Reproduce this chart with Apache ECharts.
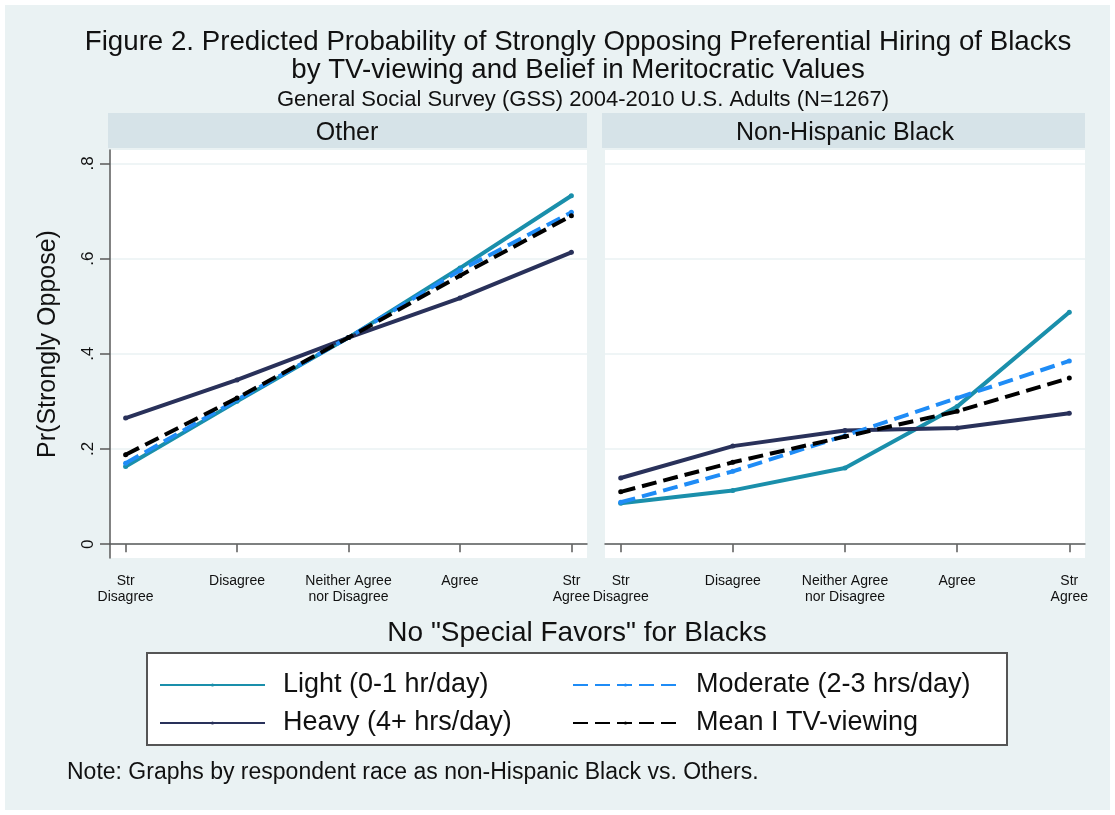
<!DOCTYPE html>
<html>
<head>
<meta charset="utf-8">
<script src="https://cdn.jsdelivr.net/npm/echarts@6/dist/echarts.min.js"></script>
<style>html,body{margin:0;padding:0;background:#fff}#c{width:1115px;height:815px}</style>
</head>
<body>
<div id="c"></div>
<script>
// ---- data ----
const categories = ['Str\nDisagree', 'Disagree', 'Neither Agree\nnor Disagree', 'Agree', 'Str\nAgree'];
const panels = ['Other', 'Non-Hispanic Black'];
const seriesNames = ['Light (0-1 hr/day)', 'Heavy (4+ hrs/day)', 'Moderate (2-3 hrs/day)', 'Mean I TV-viewing'];
const yTicks = [0, 0.2, 0.4, 0.6, 0.8];
// Other
const otherLight    = [0.163, 0.300, 0.434, 0.580, 0.732];
const otherHeavy    = [0.265, 0.345, 0.434, 0.517, 0.613];
const otherModerate = [0.170, 0.303, 0.434, 0.575, 0.697];
const otherMean     = [0.188, 0.307, 0.434, 0.564, 0.690];
// Non-Hispanic Black
const blackLight    = [0.086, 0.113, 0.160, 0.289, 0.487];
const blackHeavy    = [0.139, 0.206, 0.239, 0.244, 0.275];
const blackModerate = [0.088, 0.153, 0.228, 0.307, 0.385];
const blackMean     = [0.110, 0.172, 0.226, 0.279, 0.349];

const colors = ['#1a8fab', '#29315a', '#1f8cf6', '#000000'];
const dashed = [false, false, true, true];
const FONT = 'Liberation Sans, Arial, Helvetica, sans-serif';

const chart = echarts.init(document.getElementById('c'));
const xIdx = categories.map((c, i) => i + 1);
const toPairs = arr => arr.map((v, i) => [xIdx[i], v]);
const panelData = [
  [otherLight, otherHeavy, otherModerate, otherMean],
  [blackLight, blackHeavy, blackModerate, blackMean]
];

const series = [];
panelData.forEach((set, p) => {
  set.forEach((arr, k) => {
    series.push({
      type: 'line', name: seriesNames[k], xAxisIndex: p, yAxisIndex: p,
      data: toPairs(arr), symbol: 'circle', symbolSize: 5, showSymbol: true,
      itemStyle: { color: colors[k] },
      lineStyle: { color: colors[k], width: 4, type: dashed[k] ? [15, 7] : 'solid', cap: 'butt' },
      emphasis: { disabled: true }, animation: false, z: 3 + k
    });
  });
});

const gridBase = { top: 150, height: 408, show: true, backgroundColor: '#ffffff', borderWidth: 0 };
const xAxisBase = (p) => ({
  type: 'value', gridIndex: p, min: 0.86, max: 5.14,
  axisLine: { show: true, lineStyle: { color: '#5a5a5a', width: 1.5 } },
  axisTick: { show: true, length: 8, customValues: xIdx, lineStyle: { color: '#5a5a5a', width: 1.5 } },
  axisLabel: {
    customValues: xIdx, margin: 15, fontSize: 14, lineHeight: 16, color: '#111', fontFamily: FONT,
    formatter: v => categories[Math.round(v) - 1] || ''
  },
  splitLine: { show: false }
});
const yAxisBase = (p) => ({
  type: 'value', gridIndex: p, min: -0.029, max: 0.828,
  axisLine: { show: p === 0, lineStyle: { color: '#5a5a5a', width: 1.5 } },
  axisTick: { show: p === 0, length: 10, customValues: yTicks, lineStyle: { color: '#5a5a5a', width: 1.5 } },
  axisLabel: {
    show: p === 0, customValues: yTicks, rotate: 90, margin: 13, fontSize: 17, color: '#111', fontFamily: FONT,
    formatter: v => (Math.abs(v) < 1e-9 ? '0' : String(+v.toFixed(1)).replace(/^0\./, '.'))
  },
  splitLine: { show: true, lineStyle: { color: '#eaf2f3', width: 1.5 } },
  name: p === 0 ? 'Pr(Strongly Oppose)' : '', nameLocation: 'middle', nameGap: 49,
  nameTextStyle: { fontSize: 25, color: '#111', fontFamily: FONT, padding: [0, 0, 0, 20] }
});

const titleStyle = (size, extra) => Object.assign({ fontSize: size, fontWeight: 'normal', color: '#111', fontFamily: FONT }, extra || {});

const option = {
  backgroundColor: '#ffffff',
  animation: false,
  graphic: [
    { type: 'rect', z: -10, shape: { x: 5, y: 5, width: 1105, height: 805 }, style: { fill: '#eaf2f3' } },
    { type: 'rect', z: -5, shape: { x: 108, y: 113, width: 479, height: 35 }, style: { fill: '#d6e3e8' } },
    { type: 'rect', z: -5, shape: { x: 602, y: 113, width: 483, height: 35 }, style: { fill: '#d6e3e8' } },
    { type: 'rect', z: -5, shape: { x: 147, y: 653, width: 860, height: 92 }, style: { fill: '#ffffff', stroke: '#555555', lineWidth: 2 } }
  ],
  title: [
    { text: 'Figure 2. Predicted Probability of Strongly Opposing Preferential Hiring of Blacks\nby TV-viewing and Belief in Meritocratic Values',
      left: 578, top: 28, textAlign: 'center', padding: 0,
      textStyle: titleStyle(27.7, { lineHeight: 28 }) },
    { text: 'General Social Survey (GSS) 2004-2010 U.S. Adults (N=1267)', left: 583, top: 89, textAlign: 'center', padding: 0,
      textStyle: titleStyle(22) },
    { text: panels[0], left: 347, top: 121, textAlign: 'center', padding: 0,
      textStyle: titleStyle(25) },
    { text: panels[1], left: 845, top: 121, textAlign: 'center', padding: 0,
      textStyle: titleStyle(25) },
    { text: 'No "Special Favors" for Blacks', left: 577, top: 619, textAlign: 'center', padding: 0,
      textStyle: titleStyle(28) },
    { text: 'Note: Graphs by respondent race as non-Hispanic Black vs. Others.', left: 67, top: 761, padding: 0,
      textStyle: titleStyle(23) }
  ],
  legend: [
    { data: [seriesNames[0], seriesNames[1]], orient: 'vertical', left: 159, top: 670, itemWidth: 105, itemHeight: 4,
      itemGap: 8, selectedMode: false, padding: 0,
      textStyle: { fontSize: 27, lineHeight: 30, color: '#111', fontFamily: FONT, padding: [0, 0, 0, 13] } },
    { data: [seriesNames[2], seriesNames[3]], orient: 'vertical', left: 572, top: 670, itemWidth: 105, itemHeight: 4,
      itemGap: 8, selectedMode: false, padding: 0,
      textStyle: { fontSize: 27, lineHeight: 30, color: '#111', fontFamily: FONT, padding: [0, 0, 0, 13] } }
  ],
  grid: [
    Object.assign({ left: 110, width: 477 }, gridBase),
    Object.assign({ left: 605, width: 480 }, gridBase)
  ],
  xAxis: [xAxisBase(0), xAxisBase(1)],
  yAxis: [yAxisBase(0), yAxisBase(1)],
  series: series
};
chart.setOption(option);
</script>
</body>
</html>
